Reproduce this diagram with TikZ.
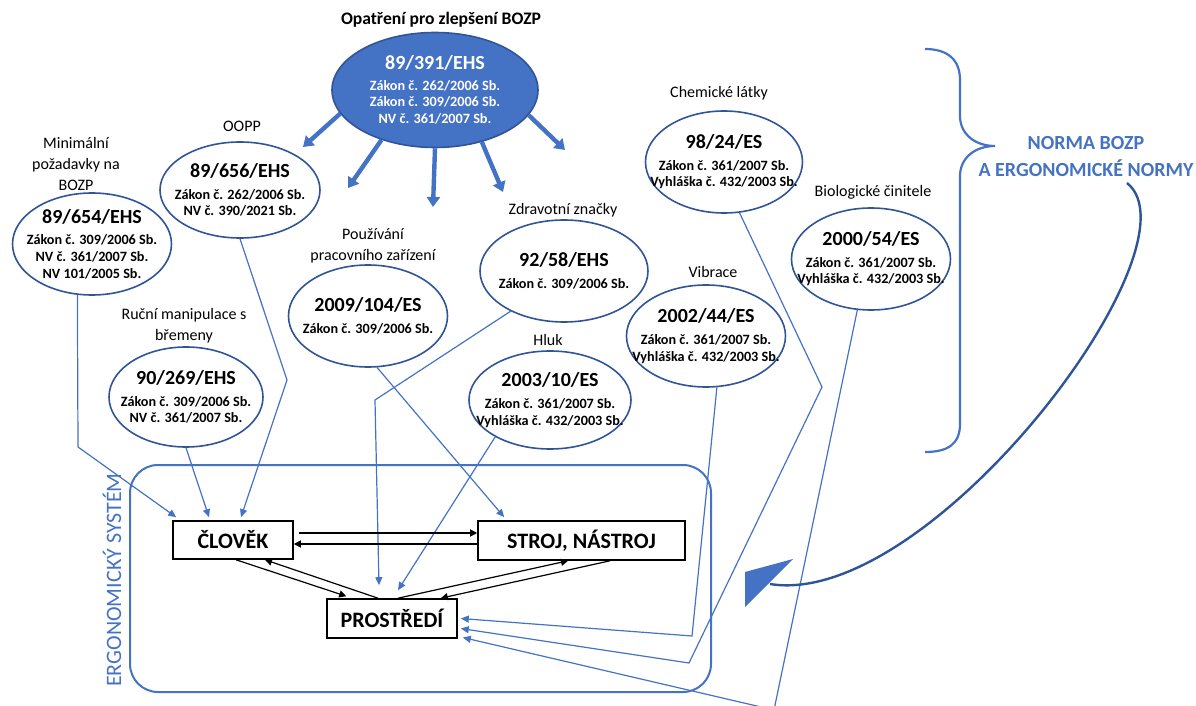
\documentclass[tikz,border=0pt]{standalone}
\usepackage{fontspec}
\setmainfont{Carlito}
\usetikzlibrary{shapes.geometric,arrows.meta}
\definecolor{bozpblue}{RGB}{68,114,196}
\definecolor{bozpdark}{RGB}{47,85,151}
\newcommand{\lawtit}[1]{{\fontsize{10}{12}\selectfont #1}}

\begin{document}
\begin{tikzpicture}
  [x=0.5pt,y=-0.5pt,
   lawell/.style={ellipse,draw=bozpdark,line width=0.8pt,inner sep=0pt},
   lawtext/.style={align=center,inner sep=0pt,font=\bfseries\fontsize{7.1}{8.3}\selectfont},
   topic/.style={align=center,inner sep=0pt,font=\fontsize{8}{10.5}\selectfont},
   elembox/.style={rectangle,draw=black,line width=0.8pt,inner sep=0pt,font=\bfseries\fontsize{11}{13}\selectfont},
   link/.style={draw=bozpblue,line width=0.6pt,-{Triangle[length=4pt,width=3.5pt]}},
   flow/.style={draw=black,line width=0.6pt,-{Triangle[length=3.5pt,width=3.5pt]}},
   spoke/.style={draw=bozpblue,line width=2.2pt,-{Triangle[length=5pt,width=6.5pt]}}]

  \useasboundingbox (0,0) rectangle (1196,706);

  % directives and laws
  \node[lawell,fill=bozpblue,minimum width=103pt,minimum height=57.5pt] (opatr) at (435,90) {};
  \node[lawtext,text=white] (opatrtxt) at (opatr) {\lawtit{89/391/EHS}\\[2pt]Zákon č. 262/2006 Sb.\\Zákon č. 309/2006 Sb.\\NV č. 361/2007 Sb.};
  \node[lawell,minimum width=79.5pt,minimum height=51pt] (minpoz) at (92,244) {};
  \node[lawtext] (minpoztxt) at (minpoz) {\lawtit{89/654/EHS}\\[2.5pt]Zákon č. 309/2006 Sb.\\NV č. 361/2007 Sb.\\NV 101/2005 Sb.};
  \node[lawell,minimum width=80pt,minimum height=48pt] (oopp) at (240,190) {};
  \node[lawtext] (opptxt) at (oopp) {\lawtit{89/656/EHS}\\[2.5pt]Zákon č. 262/2006 Sb.\\NV č. 390/2021 Sb.};
  \node[lawell,minimum width=77pt,minimum height=50pt] (rucni) at (186,397) {};
  \node[lawtext] (rucnitxt) at (rucni) {\lawtit{90/269/EHS}\\[2.5pt]Zákon č. 309/2006 Sb.\\NV č. 361/2007 Sb.};
  \node[lawell,minimum width=79.5pt,minimum height=51pt] (pouz) at (368,316) {};
  \node[lawtext] (pouztxt) at (pouz) {\lawtit{2009/104/ES}\\[2.5pt]Zákon č. 309/2006 Sb.};
  \node[lawell,minimum width=84pt,minimum height=51pt] (zdrav) at (564,271) {};
  \node[lawtext] (zdravtxt) at (zdrav) {\lawtit{92/58/EHS}\\[2.5pt]Zákon č. 309/2006 Sb.};
  \node[lawell,minimum width=81pt,minimum height=49pt] (hluk) at (550,400) {};
  \node[lawtext] (hluktxt) at (hluk) {\lawtit{2003/10/ES}\\[2.5pt]Zákon č. 361/2007 Sb.\\Vyhláška č. 432/2003 Sb.};
  \node[lawell,minimum width=78.5pt,minimum height=51pt] (chem) at (724,162) {};
  \node[lawtext] (chemtxt) at (chem) {\lawtit{98/24/ES}\\[2.5pt]Zákon č. 361/2007 Sb.\\Vyhláška č. 432/2003 Sb.};
  \node[lawell,minimum width=79.5pt,minimum height=51pt] (vibr) at (706,336) {};
  \node[lawtext] (vibrtxt) at (vibr) {\lawtit{2002/44/ES}\\[2.5pt]Zákon č. 361/2007 Sb.\\Vyhláška č. 432/2003 Sb.};
  \node[lawell,minimum width=79.5pt,minimum height=51pt] (bio) at (871,259) {};
  \node[lawtext] (biotxt) at (bio) {\lawtit{2000/54/ES}\\[2.5pt]Zákon č. 361/2007 Sb.\\Vyhláška č. 432/2003 Sb.};

  % topics
  \node[topic,font=\bfseries\fontsize{8.8}{10.5}\selectfont] (opatrlab) at (441,20) {Opatření pro zlepšení BOZP};
  \node[topic] (minpozlab) at (76,164) {Minimální\\požadavky na\\BOZP};
  \node[topic] (oopplab) at (242,126) {OOPP};
  \node[topic] (rucnilab) at (184,326) {Ruční manipulace s\\břemeny};
  \node[topic] (pouzlab) at (373,246) {Používání\\pracovního zařízení};
  \node[topic] (zdravlab) at (563,210) {Zdravotní značky};
  \node[topic] (hluklab) at (548,340) {Hluk};
  \node[topic] (chemlab) at (719,93) {Chemické látky};
  \node[topic] (vibrlab) at (713,272) {Vibrace};
  \node[topic] (biolab) at (873,192) {Biologické činitele};

  % ergonomic system
  \node[draw=bozpblue,line width=1pt,rounded corners=14pt,minimum width=290.5pt,minimum height=113.5pt,inner sep=0pt] (ergsys) at (420.5,578.5) {};
  \node[rotate=90,text=bozpblue,inner sep=0pt,font=\fontsize{11}{12}\selectfont] (ergtext) at (112,580) {ERGONOMICKÝ SYSTÉM};
  \node[elembox,minimum width=60pt,minimum height=19pt] (clovek) at (233,540) {ČLOVĚK};
  \node[elembox,minimum width=103.5pt,minimum height=19.5pt] (stroj) at (581.5,540.5) {STROJ, NÁSTROJ};
  \node[elembox,minimum width=65pt,minimum height=19.5pt] (prostr) at (392,618.5) {PROSTŘEDÍ};

  \node[align=center,text=bozpblue,inner sep=0pt,font=\bfseries\fontsize{10}{13.5}\selectfont] (norma) at (1086,157) {NORMA BOZP\\A ERGONOMICKÉ NORMY};

  % spokes of the framework directive
  \coordinate (a1) at (303,147);
  \coordinate (a2) at (348,188);
  \coordinate (a3) at (433,207);
  \coordinate (a4) at (503,192);
  \coordinate (a5) at (565,150);
  \foreach \ang/\tip in {194/a1,223/a2,270/a3,312/a4,345/a5}
    \draw[spoke] (opatr.\ang) -- (\tip);

  % bends of the links
  \coordinate (b1) at (78,447);
  \coordinate (b3) at (287,380);
  \coordinate (b5) at (375,400);
  \coordinate (b7) at (692,636);
  \coordinate (b8a) at (822,387);
  \coordinate (b8b) at (689,663);
  \coordinate (b9) at (774,710);

  \draw[link] (minpoz.254) -- (b1) -- ([xshift=2pt,yshift=1.5pt]clovek.north west);
  \draw[link] (rucni.south) -- ([xshift=-12pt,yshift=1.5pt]clovek.north);
  \draw[link] (oopp.south) -- (b3) -- ([xshift=4pt,yshift=1.5pt]clovek.north);
  \draw[link] (pouz.280) -- ([xshift=13.5pt,yshift=1.5pt]stroj.north west);
  \draw[link] (zdrav.217) -- (b5) -- ([xshift=-6.5pt,yshift=6.5pt]prostr.north);
  \draw[link] (hluk.214) -- ([xshift=3pt,yshift=4pt]prostr.north);
  \draw[link] (vibr.282) -- (b7) -- ([xshift=1.5pt]prostr.east);
  \draw[link] (chem.287) -- (b8a) -- (b8b) -- ([xshift=1.5pt,yshift=-5pt]prostr.east);
  \draw[link] (bio.255) -- (b9) -- ([xshift=2.5pt,yshift=-9.5pt]prostr.east);

  % flows inside the system
  \draw[flow] ([xshift=2.5pt,yshift=3.5pt]clovek.east) -- ([yshift=3.75pt]stroj.west);
  \draw[flow] ([yshift=-1.75pt]stroj.west) -- ([yshift=-2pt]clovek.east);
  \draw[flow] ([xshift=1.5pt]clovek.south) -- ([xshift=10pt,yshift=1pt]prostr.north west);
  \draw[flow] ([xshift=-7pt]prostr.north) -- ([xshift=16pt]clovek.south);
  \draw[flow] ([xshift=3pt]prostr.north) -- ([xshift=-6.75pt]stroj.south);
  \draw[flow] ([xshift=14.25pt]stroj.south) -- ([xshift=-8.5pt]prostr.north east);

  % brace and the big arrow
  \draw[bozpblue,line width=1.1pt] (925,49) .. controls (948,49) and (960,60) .. (960,80) -- (960,116)
    .. controls (960,134) and (975,146) .. (995,146) .. controls (975,146) and (960,158) .. (960,176)
    -- (960,424) .. controls (960,444) and (948,452) .. (925,452);
  \coordinate (normaout) at (1127,183);
  \coordinate (bigtip) at (770,584);
  \draw[bozpdark,line width=1.2pt] (normaout) .. controls (1205,245) and (930,610) .. (bigtip);
  \fill[bozpblue] (745,572) -- (793,559) -- (745,607) -- cycle;
\end{tikzpicture}
\end{document}
